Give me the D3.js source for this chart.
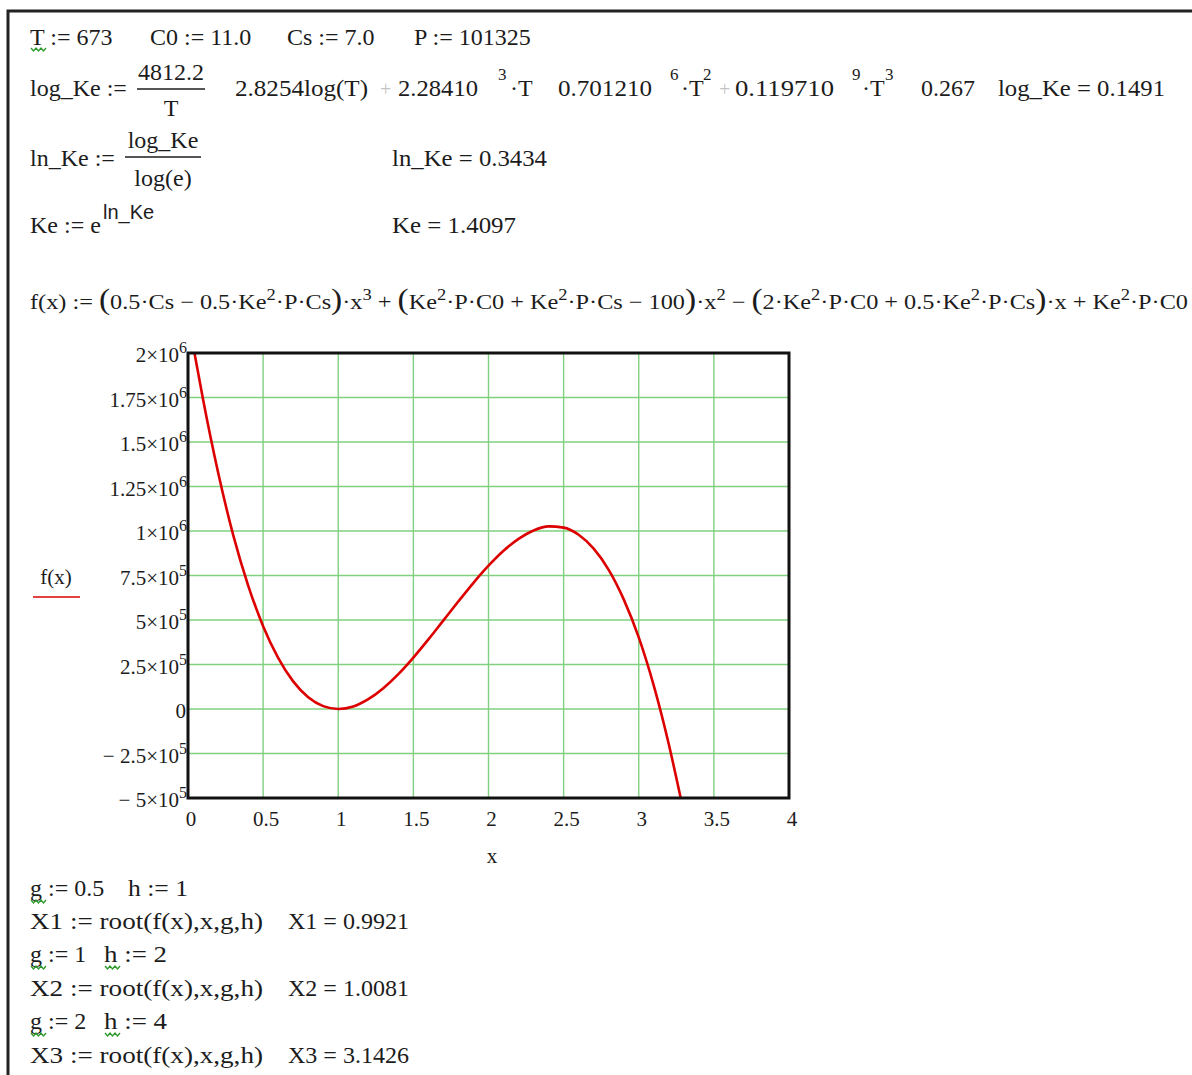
<!DOCTYPE html>
<html>
<head>
<meta charset="utf-8">
<script src="https://cdn.jsdelivr.net/npm/d3@7"></script>
<style>
  body { margin: 0; background: #fff; }
  svg text { font-family: "Liberation Serif", "Times New Roman", serif; fill: #1c1c1c; white-space: pre; }
</style>
</head>
<body>
<svg id="sheet" width="1192" height="1075"></svg>
<script>
"use strict";

// axis ticks of the plot
var xTicks = [0, 0.5, 1, 1.5, 2, 2.5, 3, 3.5, 4];
var xTickLabels = ["0", "0.5", "1", "1.5", "2", "2.5", "3", "3.5", "4"];
var yTicks = [2e6, 1.75e6, 1.5e6, 1.25e6, 1e6, 7.5e5, 5e5, 2.5e5, 0, -2.5e5, -5e5];
var yMantissa = ["2", "1.75", "1.5", "1.25", "1", "7.5", "5", "2.5", "0", "\u2212 2.5", "\u2212 5"];
var yExponent = ["6", "6", "6", "6", "6", "5", "5", "5", "", "5", "5"];

// f(x)
var curveX = [0.043, 0.1, 0.2, 0.3, 0.4, 0.5, 0.6, 0.7, 0.8, 0.9, 1.0, 1.1, 1.2, 1.3, 1.4, 1.5, 1.6,
              1.7, 1.8, 1.9, 2.0, 2.1, 2.2, 2.3, 2.4, 2.5, 2.6, 2.7, 2.8, 2.9, 3.0, 3.1, 3.2, 3.279];
var curveY = [2.0e6, 1.74e6, 1.33e6, 9.8e5, 6.95e5, 4.65e5, 2.87e5, 1.55e5, 6.6e4, 1.6e4, 0, 1.4e4,
              5.5e4, 1.17e5, 1.96e5, 2.89e5, 3.91e5, 4.98e5, 6.05e5, 7.09e5, 8.05e5, 8.89e5, 9.56e5,
              1.003e6, 1.026e6, 1.019e6, 9.79e5, 9.01e5, 7.82e5, 6.16e5, 4.02e5, 1.31e5, -1.98e5, -5.0e5];

var svg = d3.select("#sheet");

// sheet frame
svg.append("path")
  .attr("d", "M8,1075V11H1192")
  .attr("fill", "none")
  .attr("stroke", "#222")
  .attr("stroke-width", 3);

// writes a text made of pieces; {t, sup} pieces are raised
function mathText(x, y, parts, size, opts) {
  opts = opts || {};
  var t = svg.append("text")
    .attr("x", x)
    .attr("y", y)
    .style("font-size", size + "px");
  if (opts.anchor) t.attr("text-anchor", opts.anchor);
  if (opts.len) t.attr("textLength", opts.len).attr("lengthAdjust", "spacingAndGlyphs");
  var lvl = 0;
  parts.forEach(function (p) {
    var s = typeof p === "string" ? { t: p } : p;
    var target = s.sup ? -Math.round(size * 0.42) : 0;
    var ts = t.append("tspan").text(s.t).attr("dy", target - lvl);
    if (s.sup) ts.style("font-size", Math.round(size * 0.74) + "px");
    if (s.big) ts.style("font-size", Math.round(size * 1.4) + "px");
    lvl = target;
  });
  return t;
}

// green squiggle under a redefined name
function squiggle(x0, x1, y) {
  var d = "M" + x0 + "," + y;
  for (var x = x0 + 2.5, k = 0; x <= x1; x += 2.5, k++) d += "L" + x + "," + (y + (k % 2 ? 0 : 3));
  svg.append("path").attr("d", d).attr("fill", "none").attr("stroke", "#2e9a2e").attr("stroke-width", 1.4);
}

var fs = 24;

// row 1
mathText(30, 45, ["T := 673"], fs);
squiggle(31, 46, 48);
mathText(150, 45, ["C0 := 11.0"], fs);
mathText(287, 45, ["Cs := 7.0"], fs);
mathText(414, 45, ["P := 101325"], fs);

// row 2 : log_Ke
mathText(30, 96, ["log_Ke :="], fs);
mathText(171, 80, ["4812.2"], fs, { anchor: "middle" });
svg.append("line").attr("x1", 137).attr("x2", 205).attr("y1", 89).attr("y2", 89)
  .attr("stroke", "#1c1c1c").attr("stroke-width", 1.5);
mathText(171, 116, ["T"], fs, { anchor: "middle" });
mathText(235, 96, ["2.8254log(T)"], fs, { len: 133 });
mathText(380, 96, ["+"], fs - 4).style("fill", "#c4c4c4");
mathText(398, 96, ["2.28410"], fs, { len: 80 });
mathText(498, 80, ["3"], 17);
mathText(510, 96, ["\u00b7T"], fs);
mathText(558, 96, ["0.701210"], fs, { len: 94 });
mathText(670, 80, ["6"], 17);
mathText(681, 96, ["\u00b7T"], fs);
mathText(703, 80, ["2"], 17);
mathText(719, 96, ["+"], fs - 4).style("fill", "#c4c4c4");
mathText(735, 96, ["0.119710"], fs, { len: 99 });
mathText(852, 80, ["9"], 17);
mathText(862, 96, ["\u00b7T"], fs);
mathText(885, 80, ["3"], 17);
mathText(921, 96, ["0.267"], fs);
mathText(998, 96, ["log_Ke = 0.1491"], fs, { len: 167 });

// row 3 : ln_Ke
mathText(30, 166, ["ln_Ke :="], fs);
mathText(163, 148, ["log_Ke"], fs, { anchor: "middle" });
svg.append("line").attr("x1", 125).attr("x2", 201).attr("y1", 157).attr("y2", 157)
  .attr("stroke", "#1c1c1c").attr("stroke-width", 1.5);
mathText(163, 186, ["log(e)"], fs, { anchor: "middle" });
mathText(392, 166, ["ln_Ke = 0.3434"], fs, { len: 155 });

// row 4 : Ke
mathText(30, 233, ["Ke := e"], fs);
mathText(103, 219, ["ln_Ke"], 20).style("font-family", "'Liberation Sans', Arial, sans-serif");
mathText(392, 233, ["Ke = 1.4097"], fs, { len: 124 });

// row 5 : f(x)
mathText(30, 309, [
  "f(x) := ", { t: "(", big: true }, "0.5\u00b7Cs \u2212 0.5\u00b7Ke", { t: "2", sup: true }, "\u00b7P\u00b7Cs",
  { t: ")", big: true }, "\u00b7x", { t: "3", sup: true }, " + ", { t: "(", big: true },
  "Ke", { t: "2", sup: true }, "\u00b7P\u00b7C0 + Ke", { t: "2", sup: true }, "\u00b7P\u00b7Cs \u2212 100",
  { t: ")", big: true }, "\u00b7x", { t: "2", sup: true }, " \u2212 ", { t: "(", big: true },
  "2\u00b7Ke", { t: "2", sup: true }, "\u00b7P\u00b7C0 + 0.5\u00b7Ke", { t: "2", sup: true }, "\u00b7P\u00b7Cs",
  { t: ")", big: true }, "\u00b7x + Ke", { t: "2", sup: true }, "\u00b7P\u00b7C0"
], 21, { len: 1158 });

// plot
var x = d3.scaleLinear().domain([0, 4]).range([188, 789]);
var y = d3.scaleLinear().domain([-5e5, 2e6]).range([798, 353]);

var plot = svg.append("g").attr("class", "plot");

plot.selectAll(".vgrid")
  .data(xTicks.slice(1, -1))
  .enter().append("line")
  .attr("class", "vgrid")
  .attr("x1", function (d) { return x(d); })
  .attr("x2", function (d) { return x(d); })
  .attr("y1", y(2e6)).attr("y2", y(-5e5))
  .attr("stroke", "#80d080").attr("stroke-width", 1.4);

plot.selectAll(".hgrid")
  .data(yTicks.slice(1, -1))
  .enter().append("line")
  .attr("class", "hgrid")
  .attr("x1", x(0)).attr("x2", x(4))
  .attr("y1", function (d) { return y(d); })
  .attr("y2", function (d) { return y(d); })
  .attr("stroke", "#80d080").attr("stroke-width", 1.4);

var line = d3.line()
  .x(function (d) { return x(d[0]); })
  .y(function (d) { return y(d[1]); })
  .curve(d3.curveMonotoneX);

plot.append("path")
  .datum(d3.zip(curveX, curveY))
  .attr("d", line)
  .attr("fill", "none")
  .attr("stroke", "#dd0000")
  .attr("stroke-width", 2.6);

plot.append("rect")
  .attr("x", x(0)).attr("y", y(2e6))
  .attr("width", x(4) - x(0)).attr("height", y(-5e5) - y(2e6))
  .attr("fill", "none")
  .attr("stroke", "#111")
  .attr("stroke-width", 3);

// y tick labels
yTicks.forEach(function (v, i) {
  var parts = [yMantissa[i]];
  if (yExponent[i]) parts.push("\u00d710", { t: yExponent[i], sup: true });
  mathText(yExponent[i] ? 187 : 186, y(v) + 9, parts, 21, { anchor: "end" });
});

// x tick labels
xTicks.forEach(function (v, i) {
  mathText(x(v) + 3, 826, [xTickLabels[i]], 21, { anchor: "middle" });
});

mathText(492, 863, ["x"], 21, { anchor: "middle" });
mathText(56, 584, ["f(x)"], 21, { anchor: "middle" });
svg.append("line").attr("x1", 33).attr("x2", 80).attr("y1", 597).attr("y2", 597)
  .attr("stroke", "#dd0000").attr("stroke-width", 1.6);

// root finding block
mathText(30, 896, ["g := 0.5"], fs);
squiggle(31, 46, 900);
mathText(128, 896, ["h := 1"], fs, { len: 60 });
mathText(30, 929, ["X1 := root(f(x),x,g,h)"], fs, { len: 233 });
mathText(288, 929, ["X1 = 0.9921"], fs, { len: 121 });
mathText(30, 962, ["g := 1"], fs);
squiggle(31, 46, 966);
mathText(104, 962, ["h := 2"], fs, { len: 63 });
squiggle(105, 120, 966);
mathText(30, 996, ["X2 := root(f(x),x,g,h)"], fs, { len: 233 });
mathText(288, 996, ["X2 = 1.0081"], fs, { len: 121 });
mathText(30, 1029, ["g := 2"], fs);
squiggle(31, 46, 1033);
mathText(104, 1029, ["h := 4"], fs, { len: 63 });
squiggle(105, 120, 1033);
mathText(30, 1063, ["X3 := root(f(x),x,g,h)"], fs, { len: 233 });
mathText(288, 1063, ["X3 = 3.1426"], fs, { len: 121 });
</script>
</body>
</html>
